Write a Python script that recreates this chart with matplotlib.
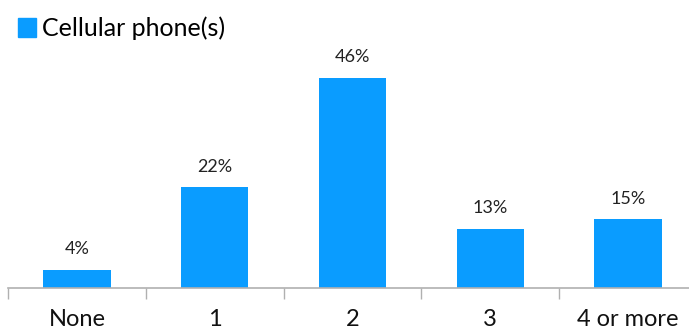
import matplotlib
matplotlib.use("Agg")
import matplotlib.pyplot as plt
from matplotlib.patches import Patch

categories = ["None", "1", "2", "3", "4 or more"]
values = [4, 22, 46, 13, 15]
labels = ["4%", "22%", "46%", "13%", "15%"]
series_name = "Cellular phone(s)"

plt.rcParams['font.family'] = ['Lato', 'DejaVu Sans']
color = "#0A9CFF"

fig = plt.figure(figsize=(6.89, 3.32), dpi=100)
ax = fig.add_axes([8/689, 44/332, 689/689, 250/332])
x = range(len(categories))
ax.bar(x, values, width=0.49, color=color)
for xi, v, l in zip(x, values, labels):
    ax.annotate(l, (xi, v), xytext=(0, 9), textcoords="offset points",
                ha="center", va="bottom", fontsize=13, color="#222222")
ax.set_xlim(-0.5, 4.5)
ax.set_ylim(0, 250/4.57)
for s in ["top", "right", "left"]:
    ax.spines[s].set_visible(False)
ax.spines["bottom"].set_color("#b0b0b0")
ax.spines["bottom"].set_linewidth(1.2)
ax.set_yticks([])
ax.set_xticks([i - 0.5 for i in range(len(categories) + 1)])
ax.set_xticklabels([])
ax.set_xticks(list(x), minor=True)
ax.set_xticklabels(categories, minor=True, fontsize=17, color="#111111")
ax.tick_params(axis="x", which="major", length=8, color="#b0b0b0", width=1)
ax.tick_params(axis="x", which="minor", length=0, pad=15)

fig.legend(handles=[Patch(color=color)], labels=[series_name], loc="upper left",
           bbox_to_anchor=(0.0, 1.003), frameon=False, fontsize=18,
           handlelength=0.75, handleheight=0.75, handletextpad=0.25, borderaxespad=0.3)
fig.savefig("out.png", dpi=100)
